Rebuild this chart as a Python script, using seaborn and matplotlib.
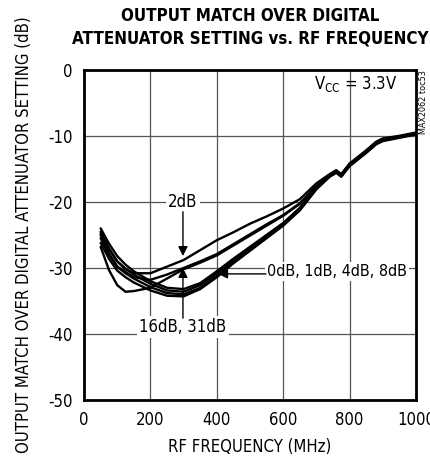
import matplotlib
matplotlib.use("Agg")
import matplotlib.pyplot as plt
import pandas as pd
import seaborn as sns

sns.set_style("white")
plt.rcParams["font.family"] = ["DejaVu Sans"]
plt.rcParams["font.stretch"] = "condensed"
plt.rcParams["text.color"] = "black"
plt.rcParams["axes.labelcolor"] = "black"
plt.rcParams["xtick.color"] = "black"
plt.rcParams["ytick.color"] = "black"
plt.rcParams["axes.unicode_minus"] = False

# RF frequency (MHz)
freq = [50, 75, 100, 125, 150, 200, 250, 300, 350, 400, 450, 500, 550,
        600, 650, 700, 740, 760, 775, 800, 850, 880, 900, 950, 1000]

# output match (dB) per attenuator setting
att_0db = [-24.0, -26.3, -28.2, -29.5, -30.5, -32.0, -33.0, -33.2, -32.3, -30.5, -28.6, -26.8, -25.0,
           -23.2, -20.9, -17.8, -16.0, -15.4, -16.0, -14.4, -12.4, -11.1, -10.6, -10.2, -9.7]
att_1db = [-24.8, -27.2, -29.0, -30.1, -31.0, -32.4, -33.4, -33.6, -32.6, -30.8, -28.8, -27.0, -25.1,
           -23.3, -21.0, -17.9, -16.1, -15.5, -16.1, -14.5, -12.5, -11.2, -10.7, -10.2, -9.7]
att_2db = [-24.5, -27.0, -29.0, -30.2, -30.8, -30.8, -29.8, -28.8, -27.3, -25.8, -24.6, -23.3, -22.2,
           -21.0, -19.6, -17.2, -15.8, -15.2, -15.8, -14.2, -12.2, -10.9, -10.4, -10.0, -9.5]
att_4db = [-25.5, -28.0, -29.8, -30.8, -31.6, -32.9, -33.8, -34.0, -33.0, -31.2, -29.1, -27.3, -25.4,
           -23.5, -21.2, -18.0, -16.1, -15.5, -16.1, -14.5, -12.5, -11.2, -10.7, -10.2, -9.7]
att_8db = [-26.2, -28.6, -30.4, -31.4, -32.2, -33.4, -34.2, -34.3, -33.2, -31.4, -29.3, -27.4, -25.5,
           -23.6, -21.3, -18.1, -16.2, -15.6, -16.2, -14.6, -12.6, -11.3, -10.8, -10.3, -9.8]
att_16db = [-25.0, -27.8, -29.8, -30.6, -31.4, -31.8, -31.0, -30.0, -29.0, -27.9, -26.4, -24.9, -23.4,
            -22.0, -20.2, -17.6, -15.9, -15.3, -15.9, -14.3, -12.3, -11.0, -10.5, -10.1, -9.6]
att_31db = [-26.8, -30.3, -32.6, -33.6, -33.5, -33.0, -31.6, -30.2, -29.2, -28.1, -26.6, -25.1, -23.6,
            -22.1, -20.3, -17.6, -15.9, -15.3, -15.9, -14.3, -12.3, -11.0, -10.5, -10.1, -9.6]

settings = {"0dB": att_0db, "1dB": att_1db, "2dB": att_2db, "4dB": att_4db,
            "8dB": att_8db, "16dB": att_16db, "31dB": att_31db}

df = pd.concat(
    [pd.DataFrame({"freq": freq, "match": vals, "setting": name}) for name, vals in settings.items()],
    ignore_index=True,
)

fig = plt.figure(figsize=(4.31, 4.62), dpi=100)
ax = fig.add_axes([0.195, 0.134, 0.77, 0.715])

sns.lineplot(data=df, x="freq", y="match", hue="setting", units="setting", estimator=None,
             palette=["black"] * len(settings), linewidth=1.7, legend=False, ax=ax, zorder=3)

ax.set_xlim(0, 1000)
ax.set_ylim(-50, 0)
ax.set_xticks([0, 200, 400, 600, 800, 1000])
ax.set_yticks([0, -10, -20, -30, -40, -50])
ax.grid(True, color="#555555", linewidth=0.9)
ax.tick_params(length=0, labelsize=12, pad=8)
for s in ax.spines.values():
    s.set_color("black")
    s.set_linewidth(2.0)
    s.set_zorder(5)

ax.set_xlabel("RF FREQUENCY (MHz)", fontsize=12, labelpad=6)
ax.set_ylabel("OUTPUT MATCH OVER DIGITAL ATTENUATOR SETTING (dB)", fontsize=12, labelpad=11)
fig.text(0.58, 0.985, "OUTPUT MATCH OVER DIGITAL\nATTENUATOR SETTING vs. RF FREQUENCY",
         ha="center", va="top", fontsize=12.2, fontweight="bold", linespacing=1.3)

ax.text(945, -2.2, "V$_{\\mathrm{CC}}$ = 3.3V", ha="right", va="center", fontsize=12)
fig.text(0.982, 0.848, "MAX2062 toc53", rotation=90, ha="center", va="top", fontsize=6.5)

box = dict(facecolor="white", edgecolor="none", pad=1.5)
arrow = dict(arrowstyle="-|>", color="black", lw=1.0, mutation_scale=14, shrinkA=0, shrinkB=0)

ax.text(298, -20, "2dB", ha="center", va="center", fontsize=12, bbox=box, zorder=4)
ax.annotate("", xy=(298, -28.2), xytext=(298, -21.5), arrowprops=arrow, zorder=4)

ax.text(552, -30.5, "0dB, 1dB, 4dB, 8dB", ha="left", va="center", fontsize=11.5, bbox=box, zorder=4)
ax.annotate("", xy=(404, -30.9), xytext=(548, -30.9), arrowprops=arrow, zorder=4)

ax.text(298, -38.9, "16dB, 31dB", ha="center", va="center", fontsize=12, bbox=box, zorder=4)
ax.annotate("", xy=(298, -30.0), xytext=(298, -37.6), arrowprops=arrow, zorder=4)

fig.savefig("out.png", dpi=100)
